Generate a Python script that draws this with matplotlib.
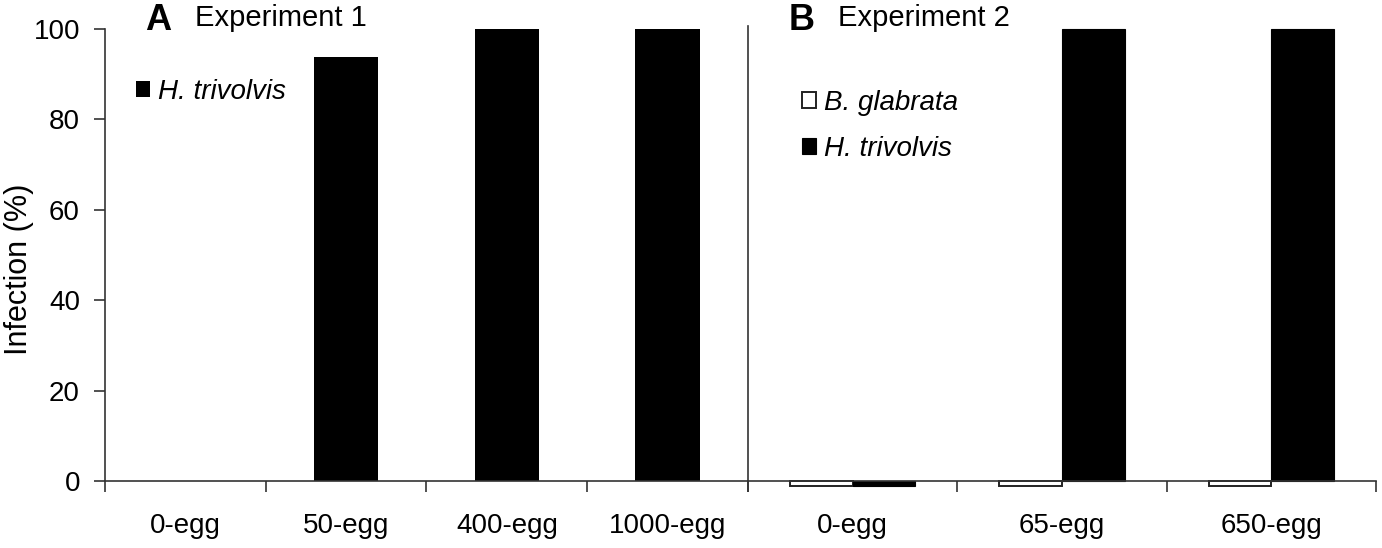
import matplotlib
matplotlib.use('Agg')
import matplotlib.pyplot as plt
import numpy as np

plt.rcParams['font.family'] = ['Liberation Sans', 'DejaVu Sans']

exp1_labels = ['0-egg', '50-egg', '400-egg', '1000-egg']
exp1_htriv = [0, 93.8, 100, 100]

exp2_labels = ['0-egg', '65-egg', '650-egg']
exp2_bglab = [-1.2, -1.2, -1.2]
exp2_htriv = [-1.2, 100, 100]

s = 20
W, H = 1382, 548
fig = plt.figure(figsize=(W / 100, H / 100), dpi=100)


def box(x0, x1, y0, y1):
    return [x0 / W, 1 - y1 / H, (x1 - x0) / W, (y1 - y0) / H]


ax1 = fig.add_axes(box(105, 748, 29, 481))
ax2 = fig.add_axes(box(748, 1376, 29, 481))

# experiment 1
x1 = np.arange(len(exp1_labels)) + 0.5
ax1.bar(x1, exp1_htriv, width=0.4, color='black', linewidth=0,
        label='H. trivolvis', clip_on=False)
ax1.set_xlim(0, len(exp1_labels))
ax1.set_ylim(0, 100)
ax1.set_yticks([0, 20, 40, 60, 80, 100])
ax1.set_ylabel('Infection (%)', fontsize=s + 2)
ax1.yaxis.set_label_coords(-0.11, 0.468)
ax1.legend(loc='upper left', bbox_to_anchor=(0.009, 0.945), frameon=False,
           handlelength=0.5, handleheight=0.5, handletextpad=0.3,
           prop={'style': 'italic', 'size': s})

# experiment 2
x2 = np.arange(len(exp2_labels)) + 0.5
w = 0.3
ax2.bar(x2 - w / 2, exp2_bglab, width=w, color='white', edgecolor='#222222',
        linewidth=1.4, label='B. glabrata', clip_on=False)
ax2.bar(x2 + w / 2, exp2_htriv, width=w, color='black', edgecolor='black',
        linewidth=0.8, label='H. trivolvis', clip_on=False)
ax2.set_xlim(0, len(exp2_labels))
ax2.set_ylim(0, 100)
ax2.set_yticks([])
ax2.legend(loc='upper left', bbox_to_anchor=(0.046, 0.92), frameon=False,
           handlelength=0.5, handleheight=0.5, handletextpad=0.3,
           labelspacing=0.72, prop={'style': 'italic', 'size': s})

for ax, labels in ((ax1, exp1_labels), (ax2, exp2_labels)):
    n = len(labels)
    ax.set_xticks(np.arange(n + 1))
    ax.set_xticklabels([])
    ax.set_xticks(np.arange(n) + 0.5, minor=True)
    ax.set_xticklabels(labels, minor=True, fontsize=s)
    ax.tick_params(axis='x', which='major', direction='out', length=8,
                   width=1.2, color='#333333')
    ax.tick_params(axis='x', which='minor', length=0, pad=23)
    ax.tick_params(axis='y', direction='out', length=8, width=1.2,
                   color='#333333', labelsize=s, pad=10)
    for side in ('top', 'right'):
        ax.spines[side].set_visible(False)
    for side in ('left', 'bottom'):
        ax.spines[side].set_linewidth(1.2)
        ax.spines[side].set_color('#333333')
    ax.set_zorder(1)

ax2.spines['left'].set_bounds(0, 100.6)

fig.text(145 / W, 1 - 20 / H, 'A', fontsize=s + 6, fontweight='bold', va='center')
fig.text(195 / W, 1 - 18 / H, 'Experiment 1', fontsize=s + 1, va='center')
fig.text(789 / W, 1 - 20 / H, 'B', fontsize=s + 6, fontweight='bold', va='center')
fig.text(838 / W, 1 - 18 / H, 'Experiment 2', fontsize=s + 1, va='center')

fig.savefig('out.png', dpi=100)
